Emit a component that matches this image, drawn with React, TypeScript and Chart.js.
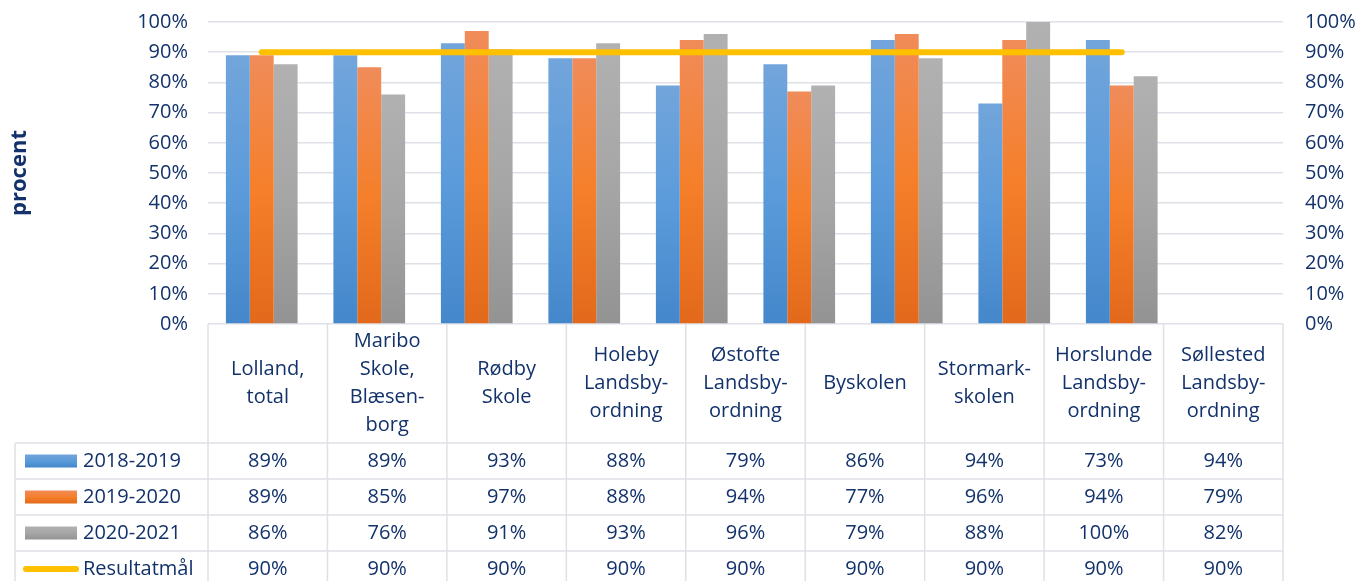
import React, { useEffect, useRef } from "react";
import { Chart, registerables } from "chart.js";

Chart.register(...registerables);

const categoryLines: string[][] = [
  ["Lolland,", "total"],
  ["Maribo", "Skole,", "Blæsen-", "borg"],
  ["Rødby", "Skole"],
  ["Holeby", "Landsby-", "ordning"],
  ["Østofte", "Landsby-", "ordning"],
  ["Byskolen"],
  ["Stormark-", "skolen"],
  ["Horslunde", "Landsby-", "ordning"],
  ["Søllested", "Landsby-", "ordning"],
];
const axisSlots: string[] = [...categoryLines.map((l) => l.join(" ")), ""];

const series1819: number[] = [89, 89, 93, 88, 79, 86, 94, 73, 94];
const series1920: number[] = [89, 85, 97, 88, 94, 77, 96, 94, 79];
const series2021: number[] = [86, 76, 91, 93, 96, 79, 88, 100, 82];
const target: number[] = [90, 90, 90, 90, 90, 90, 90, 90, 90];

const seriesNames: string[] = ["2018-2019", "2019-2020", "2020-2021", "Resultatmål"];
const yTicks: number[] = [0, 10, 20, 30, 40, 50, 60, 70, 80, 90, 100];

const TEXT = "#13326B";
const GRID = "#DEE1E7";
const FONT = "'Open Sans'";

const gradStops: Record<string, [number, string][]> = {
  blue: [[0, "#72A5DB"], [0.5, "#5B9BDB"], [1, "#4487CA"]],
  orange: [[0, "#F08C5A"], [0.5, "#F57F2A"], [1, "#E2691B"]],
  gray: [[0, "#B1B1B1"], [0.5, "#A6A6A6"], [1, "#939393"]],
};

function barGradient(key: string) {
  return (ctx: any) => {
    const chart = ctx.chart;
    const area = chart.chartArea;
    if (!area) return gradStops[key][1][1];
    const v = ctx.raw;
    if (v == null) return gradStops[key][1][1];
    const top = chart.scales.y.getPixelForValue(v);
    const g = chart.ctx.createLinearGradient(0, top, 0, area.bottom);
    gradStops[key].forEach(([o, c]) => g.addColorStop(o, c));
    return g;
  };
}

const tablePlugin = {
  id: "dataTable",
  afterDraw(chart: any) {
    const { ctx, chartArea } = chart;
    const left = chartArea.left;
    const right = chartArea.right;
    const top = chartArea.bottom;
    const headerH = 119;
    const rowH = 36;
    const legendLeft = 15;
    const colW = (right - left) / categoryLines.length;
    const rowsTop = top + headerH;
    const bottom = chart.height + 10;

    ctx.save();
    ctx.strokeStyle = GRID;
    ctx.lineWidth = 1.5;
    for (let r = 0; r < 4; r++) {
      const y = rowsTop + r * rowH;
      ctx.beginPath();
      ctx.moveTo(legendLeft, y);
      ctx.lineTo(right, y);
      ctx.stroke();
    }
    ctx.beginPath();
    ctx.moveTo(legendLeft, rowsTop);
    ctx.lineTo(legendLeft, bottom);
    ctx.stroke();
    for (let k = 0; k <= categoryLines.length; k++) {
      const x = left + k * colW;
      ctx.beginPath();
      ctx.moveTo(x, top);
      ctx.lineTo(x, bottom);
      ctx.stroke();
    }

    ctx.fillStyle = TEXT;
    ctx.font = `20px ${FONT}`;
    ctx.textAlign = "center";
    ctx.textBaseline = "middle";
    const lineH = 28;
    const headerMid = top + headerH / 2;
    categoryLines.forEach((lines, i) => {
      const cx = left + (i + 0.5) * colW;
      const start = headerMid - ((lines.length - 1) * lineH) / 2;
      lines.forEach((t, j) => ctx.fillText(t, cx, start + j * lineH));
    });

    const rows = [series1819, series1920, series2021, target];
    rows.forEach((vals, r) => {
      const cy = rowsTop + r * rowH + rowH / 2;
      vals.forEach((v, i) => {
        const cx = left + (i + 0.5) * colW;
        ctx.fillText(`${v}%`, cx, cy);
      });
    });

    const keys = ["blue", "orange", "gray"];
    ctx.textAlign = "left";
    rows.forEach((_, r) => {
      const cy = rowsTop + r * rowH + rowH / 2;
      if (r < 3) {
        const g = ctx.createLinearGradient(0, cy - 6.5, 0, cy + 6.5);
        gradStops[keys[r]].forEach(([o, c]) => g.addColorStop(o, c));
        ctx.fillStyle = g;
        ctx.fillRect(25, cy - 6.5, 52, 13);
      } else {
        ctx.strokeStyle = "#FFC000";
        ctx.lineWidth = 6;
        ctx.lineCap = "round";
        ctx.beginPath();
        ctx.moveTo(26, cy);
        ctx.lineTo(76, cy);
        ctx.stroke();
      }
      ctx.fillStyle = TEXT;
      ctx.fillText(seriesNames[r], 83, cy);
    });
    ctx.restore();
  },
};

export default function App() {
  const ref = useRef<HTMLCanvasElement | null>(null);

  useEffect(() => {
    if (!ref.current) return;
    const pad = (arr: number[]) => [...arr, null];
    const chart = new Chart(ref.current, {
      type: "bar",
      data: {
        labels: axisSlots,
        datasets: [
          {
            type: "line",
            label: seriesNames[3],
            data: pad(target) as any,
            yAxisID: "y2",
            borderColor: "#FFC000",
            borderWidth: 6,
            borderCapStyle: "round",
            pointRadius: 0,
            fill: false,
            order: 0,
          } as any,
          {
            label: seriesNames[0],
            data: pad(series1819) as any,
            backgroundColor: barGradient("blue"),
            order: 1,
          },
          {
            label: seriesNames[1],
            data: pad(series1920) as any,
            backgroundColor: barGradient("orange"),
            order: 1,
          },
          {
            label: seriesNames[2],
            data: pad(series2021) as any,
            backgroundColor: barGradient("gray"),
            order: 1,
          },
        ],
      },
      options: {
        responsive: false,
        animation: false,
        events: [],
        layout: { padding: { top: 22, bottom: 257, left: 0, right: 0 } },
        datasets: {
          bar: { categoryPercentage: 0.667, barPercentage: 1, grouped: true },
        },
        plugins: {
          legend: { display: false },
          tooltip: { enabled: false },
        },
        scales: {
          x: {
            type: "category",
            offset: true,
            ticks: { display: false },
            grid: { display: false },
            border: { display: false },
            afterFit: (s: any) => {
              s.height = 0;
              s.paddingLeft = 0;
              s.paddingRight = 0;
            },
          },
          y: {
            position: "left",
            min: 0,
            max: 100,
            afterBuildTicks: (s: any) => {
              s.ticks = yTicks.map((v) => ({ value: v }));
            },
            ticks: {
              callback: (v: any) => `${v}%`,
              color: TEXT,
              font: { family: FONT, size: 20 },
              padding: 20,
            },
            grid: { color: GRID, lineWidth: 1.5, drawTicks: false },
            border: { display: false },
            title: {
              display: true,
              text: "procent",
              color: TEXT,
              font: { family: FONT, size: 22, weight: "bold" },
              padding: { top: 7, bottom: 0 },
            },
            afterFit: (s: any) => {
              s.width = 208;
              s.paddingTop = 0;
              s.paddingBottom = 0;
            },
          },
          y2: {
            position: "right",
            min: 0,
            max: 100,
            afterBuildTicks: (s: any) => {
              s.ticks = yTicks.map((v) => ({ value: v }));
            },
            ticks: {
              callback: (v: any) => `${v}%`,
              color: TEXT,
              font: { family: FONT, size: 20 },
              padding: 22,
            },
            grid: { drawOnChartArea: false, drawTicks: false },
            border: { display: false },
            afterFit: (s: any) => {
              s.width = 75;
              s.paddingTop = 0;
              s.paddingBottom = 0;
            },
          },
        },
      },
      plugins: [tablePlugin],
    });
    return () => chart.destroy();
  }, []);

  return (
    <div style={{ position: "fixed", left: 0, top: 0, width: 1358, height: 581, background: "#fff" }}>
      <canvas ref={ref} width={1358} height={581} style={{ width: 1358, height: 581, display: "block" }} />
    </div>
  );
}
